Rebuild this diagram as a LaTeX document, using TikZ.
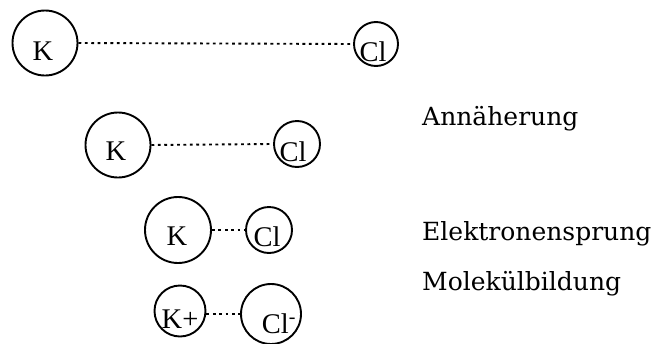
\documentclass[tikz,border=0pt]{standalone}
\usepackage{fontspec}
\setmainfont{Liberation Serif}
\newfontfamily\labelfont{DejaVu Serif}
\begin{document}
\begin{tikzpicture}[x=1pt,y=-1pt,
  atom/.style={draw,circle,line width=1.9pt,inner sep=0pt},
  sym/.style={anchor=base,inner sep=0pt,font=\fontsize{28.5}{28.5}\selectfont},
  bond/.style={line width=1.9pt,dash pattern=on 2.8pt off 3.6pt},
  stage/.style={anchor=base west,inner sep=0pt,font=\labelfont\fontsize{25}{25}\selectfont}]
\useasboundingbox (0,0) rectangle (658,343);

% far apart
\node[atom,minimum size=65pt] (k1) at (45,43) {};
\node[atom,minimum size=44pt] (c1) at (376,44) {};
\node[sym] (tk1) at (43,60) {K};
\node[sym] (tc1) at (373,61) {Cl};
\draw[bond] (k1.east) -- (c1.west);

% approach
\node[atom,minimum size=65pt] (k2) at (118,145) {};
\node[atom,minimum size=46pt] (c2) at (297,144) {};
\node[sym] (tk2) at (116,160) {K};
\node[sym] (tc2) at (293,161) {Cl};
\draw[bond] (k2.east) -- (c2.west);
\node[stage] (s1) at (422,125) {Annäherung};

% electron transfer
\node[atom,minimum size=66pt] (k3) at (178,230) {};
\node[atom,minimum size=46pt] (c3) at (269,230) {};
\node[sym] (tk3) at (177,245) {K};
\node[sym] (tc3) at (267,246) {Cl};
\draw[bond] (k3.east) -- (c3.west);
\node[stage] (s2) at (422,240) {Elektronensprung};

% ionic molecule
\node[atom,minimum size=51pt] (k4) at (180,311) {};
\node[atom,minimum size=60pt] (c4) at (271,314) {};
\node[sym] (tk4) at (180,328) {K+};
\node[sym] (tc4) at (279,333) {Cl\textsuperscript{-}};
\draw[bond] (k4.east |- c4.west) -- (c4.west);
\node[stage] (s3) at (422,290) {Molekülbildung};
\end{tikzpicture}
\end{document}
